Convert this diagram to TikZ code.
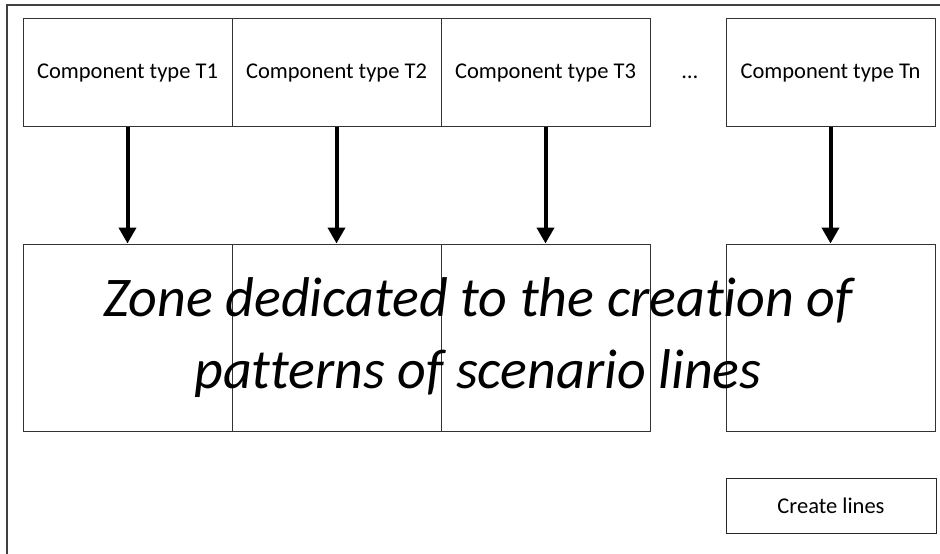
\documentclass[tikz,border=0pt]{standalone}
\usepackage{fontspec}
\setmainfont[RawFeature=-liga]{Carlito}
\usetikzlibrary{arrows.meta}

\tikzset{
  typebox/.style={draw=black!80, line width=1pt, minimum width=209pt, minimum height=108pt,
    inner sep=0pt, text depth=1pt, font=\fontsize{22.5}{26}\selectfont},
  zonebox/.style={draw=black!80, line width=1pt, minimum width=209pt, minimum height=187pt, inner sep=0pt},
  feed/.style={line width=4pt, -{Triangle[width=17pt,length=16pt]}}
}

\begin{document}
\begin{tikzpicture}[x=1pt,y=1pt]
          \useasboundingbox (0,0) rectangle (940,-554);

          % frame
          \draw[black!75, line width=1.3pt] (7,-560) -- (7,-5) -- (950,-5);

          % component types
          \node[typebox] (t1) at (127.5,-72) {Component type T1};
          \node[typebox] (t2) at (336.5,-72) {Component type T2};
          \node[typebox] (t3) at (545.5,-72) {Component type T3};
          \node[font=\fontsize{22.5}{26}\selectfont] (dots) at (690,-77) {\dots};
          \node[typebox] (tn) at (830.5,-72) {Component type Tn};

          % zone columns
          \node[zonebox] (z1) at (127.5,-337.5) {};
          \node[zonebox] (z2) at (336.5,-337.5) {};
          \node[zonebox] (z3) at (545.5,-337.5) {};
          \node[zonebox] (zn) at (830.5,-337.5) {};

          % arrows
          \draw[feed] (t1.south) -- (z1.north);
          \draw[feed] (t2.south) -- (z2.north);
          \draw[feed] (t3.south) -- (z3.north);
          \draw[feed] (tn.south) -- (zn.north);

          % zone caption
          \node[align=center, font=\fontsize{56}{72}\selectfont\itshape] (zone) at (478,-338)
            {Zone dedicated to the creation of\\patterns of scenario lines};

          % button
          \node[draw=black!85, line width=1pt, minimum width=210pt, minimum height=55pt, inner sep=0pt,
            font=\fontsize{22.5}{26}\selectfont] (create) at (831,-505.5) {Create lines};
        \end{tikzpicture}
\end{document}
